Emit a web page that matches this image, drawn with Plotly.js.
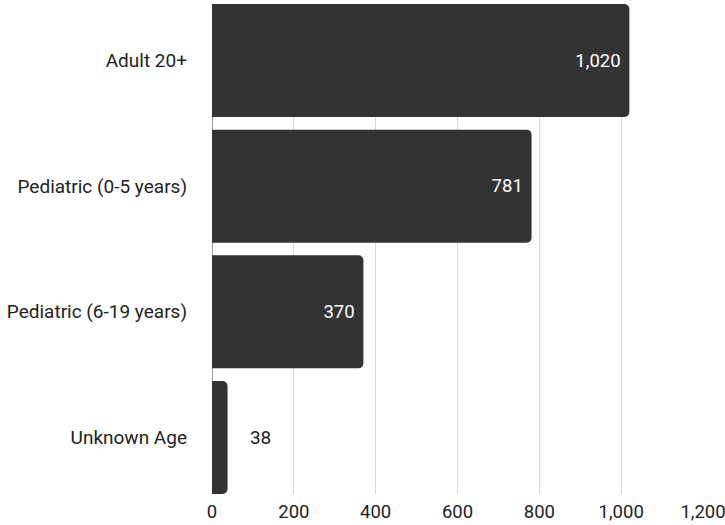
<!DOCTYPE html>
<html>
<head>
<meta charset="utf-8">
<script src="https://cdn.plot.ly/plotly-3.0.1.min.js"></script>
<style>html,body{margin:0;padding:0;background:#fff;}#chart{width:725px;height:525px;}</style>
</head>
<body>
<div id="chart"></div>
<script>
const categories = ["Adult 20+", "Pediatric (0-5 years)", "Pediatric (6-19 years)", "Unknown Age"];
const values = [1020, 781, 370, 38];
const tickValues = [0, 200, 400, 600, 800, 1000, 1200];
const tickLabels = ["0", "200", "400", "600", "800", "1,000", "1,200"];

const fmt = v => v.toLocaleString("en-US");
const positions = values.map(v => v >= 200 ? "inside" : "outside");
const labels = values.map((v, i) => positions[i] === "inside" ? fmt(v) + "\u2009" : "\u2003" + fmt(v));

const trace = {
  type: "bar",
  orientation: "h",
  y: categories,
  x: values,
  text: labels,
  textposition: positions,
  insidetextanchor: "end",
  textangle: 0,
  insidetextfont: {family: "Roboto", size: 18.5, color: "#ffffff"},
  outsidetextfont: {family: "Roboto", size: 19, color: "#222222"},
  marker: {color: "#333333", cornerradius: 5, line: {width: 0}},
  hoverinfo: "none",
  cliponaxis: false
};

const layout = {
  width: 725, height: 525,
  margin: {l: 212, r: 22, t: 4, b: 31, pad: 0},
  paper_bgcolor: "#ffffff", plot_bgcolor: "#ffffff",
  font: {family: "Roboto", size: 19, color: "#222222"},
  bargap: 0.1,
  showlegend: false,
  xaxis: {
    range: [0, 1200],
    tickvals: tickValues, ticktext: tickLabels,
    showgrid: true, gridcolor: "#d9d9d9", gridwidth: 1,
    zeroline: true, zerolinecolor: "#9e9e9e", zerolinewidth: 1,
    showline: false, ticks: "",
    ticklabelstandoff: 4,
    ticklabeloverflow: "allow",
    tickfont: {family: "Roboto", size: 18.5, color: "#222222"},
    fixedrange: true
  },
  yaxis: {
    type: "category",
    range: [3.45, -0.45],
    showgrid: false, zeroline: false, showline: false, ticks: "",
    ticklabelstandoff: 24,
    tickfont: {family: "Roboto", size: 19, color: "#222222"},
    fixedrange: true
  }
};

Plotly.newPlot("chart", [trace], layout, {displayModeBar: false, staticPlot: true});
</script>
</body>
</html>
